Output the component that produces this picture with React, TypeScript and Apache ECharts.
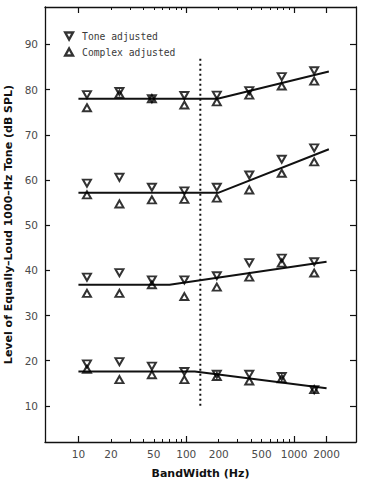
import React, { useEffect, useRef } from "react";
import * as echarts from "echarts";

// Bandwidths of the noise complexes (Hz), one octave apart
const bandwidths = [12, 24, 48, 96, 192, 384, 768, 1536];

// Levels of the equally-loud 1000-Hz tone (dB SPL), four reference levels
const toneAdjusted = [
  [78.9, 79.6, 78.0, 78.7, 78.8, 79.8, 82.9, 84.2],
  [59.3, 60.6, 58.4, 57.6, 58.4, 61.1, 64.6, 67.1],
  [38.5, 39.5, 37.9, 37.9, 38.8, 41.7, 42.7, 41.9],
  [19.3, 19.8, 18.8, 17.6, 17.0, 17.0, 16.5, 13.6],
];
const complexAdjusted = [
  [76.0, 79.0, 78.0, 76.6, 77.3, 78.8, 80.8, 81.9],
  [56.7, 54.7, 55.6, 55.7, 56.0, 57.8, 61.5, 64.0],
  [34.9, 34.9, 36.8, 34.2, 36.3, 38.5, 41.6, 39.4],
  [18.1, 15.8, 16.9, 15.8, 16.5, 15.5, 16.0, 13.6],
];

// Fitted two-segment lines: [bandwidth Hz, level dB]
const fitLines = [
  [[10, 78.0], [195, 78.0], [2100, 84.0]],
  [[10, 57.2], [200, 57.2], [2100, 66.8]],
  [[10, 36.8], [70, 36.8], [2000, 41.9]],
  [[10, 17.6], [120, 17.6], [2000, 13.9]],
];

// Critical bandwidth marker
const criticalBand = 135;
const criticalSpan = [10, 87];

const xMajorTicks = [10, 100, 1000, 2000];
const xMinorTicks = [20, 30, 40, 50, 60, 70, 80, 90, 200, 300, 400, 500, 600, 700, 800, 900];
const xTickLabels = [10, 20, 50, 100, 200, 500, 1000, 2000];
const yTicks = [10, 20, 30, 40, 50, 60, 70, 80, 90];

const lg = (v: number) => Math.log10(v);

const downTri = "path://M0,0 L10,0 L5,9 Z";
const upTri = "path://M5,0 L10,9 L0,9 Z";

export default function App() {
  const ref = useRef<HTMLDivElement>(null);

  useEffect(() => {
    if (!ref.current) return;
    const chart = echarts.init(ref.current, null, { renderer: "svg" });

    const xMin = 0.69;
    const xMax = 3.574;
    const ink = "#111111";
    const labelColor = "#4a4a4a";

    const xAxisBase = {
      type: "value" as const,
      min: xMin,
      max: xMax,
      splitLine: { show: false },
      axisLine: { show: true, onZero: false, lineStyle: { color: ink, width: 1.3 } },
    };

    const xAxes = [
      {
        ...xAxisBase,
        position: "bottom",
        name: "BandWidth (Hz)",
        nameLocation: "middle",
        nameGap: 26,
        nameTextStyle: { fontFamily: "DejaVu Sans", fontWeight: "bold", fontSize: 11, color: ink },
        axisTick: { show: true, inside: true, length: 6, customValues: xMajorTicks.map(lg), lineStyle: { color: ink, width: 1.2 } },
        axisLabel: {
          show: true,
          customValues: xTickLabels.map(lg),
          formatter: (v: number) => String(Math.round(Math.pow(10, v))),
          margin: 6,
          fontFamily: "DejaVu Sans",
          fontSize: 10.5,
          color: labelColor,
        },
      },
      {
        ...xAxisBase,
        position: "bottom",
        axisLine: { show: false, onZero: false },
        axisTick: { show: true, inside: true, length: 3, customValues: xMinorTicks.map(lg), lineStyle: { color: ink, width: 1 } },
        axisLabel: { show: false },
      },
      {
        ...xAxisBase,
        position: "top",
        axisTick: { show: true, inside: true, length: 6, customValues: xMajorTicks.map(lg), lineStyle: { color: ink, width: 1.2 } },
        axisLabel: { show: false },
      },
      {
        ...xAxisBase,
        position: "top",
        axisLine: { show: false, onZero: false },
        axisTick: { show: true, inside: true, length: 3, customValues: xMinorTicks.map(lg), lineStyle: { color: ink, width: 1 } },
        axisLabel: { show: false },
      },
    ];

    const yAxisBase = {
      type: "value" as const,
      min: 2,
      max: 98.3,
      splitLine: { show: false },
      axisLine: { show: true, onZero: false, lineStyle: { color: ink, width: 1.3 } },
    };

    const yAxes = [
      {
        ...yAxisBase,
        position: "left",
        name: "Level of Equally\u2013Loud 1000\u2013Hz Tone (dB SPL)",
        nameLocation: "middle",
        nameGap: 30,
        nameRotate: 90,
        nameTextStyle: { fontFamily: "DejaVu Sans", fontWeight: "bold", fontSize: 11, color: ink },
        axisTick: { show: true, inside: true, length: 5, customValues: yTicks, lineStyle: { color: ink, width: 1.2 } },
        axisLabel: { show: true, customValues: yTicks, margin: 7, fontFamily: "DejaVu Sans", fontSize: 10.5, color: labelColor },
      },
      {
        ...yAxisBase,
        position: "right",
        axisTick: { show: true, inside: true, length: 6, customValues: yTicks, lineStyle: { color: ink, width: 1.2 } },
        axisLabel: { show: false },
      },
    ];

    const markerStyle = { color: "rgba(255,255,255,0)", borderColor: "#000", borderWidth: 2 };

    const series: any[] = [];

    fitLines.forEach((pts, i) => {
      series.push({
        type: "line",
        name: "fit" + i,
        data: pts.map(([f, v]) => [lg(f), v]),
        showSymbol: false,
        symbol: "none",
        lineStyle: { color: ink, width: 2 },
        silent: true,
        z: 2,
      });
    });

    series.push({
      type: "line",
      name: "critical",
      data: criticalSpan.map((v) => [lg(criticalBand), v]),
      showSymbol: false,
      symbol: "none",
      lineStyle: { color: ink, width: 2, type: [2, 3] },
      silent: true,
      z: 1,
    });

    toneAdjusted.forEach((row) => {
      series.push({
        type: "scatter",
        name: "Tone adjusted",
        data: row.map((v, j) => [lg(bandwidths[j]), v]),
        symbol: downTri,
        symbolSize: [8, 7],
        itemStyle: markerStyle,
        silent: true,
        z: 3,
      });
    });

    complexAdjusted.forEach((row) => {
      series.push({
        type: "scatter",
        name: "Complex adjusted",
        data: row.map((v, j) => [lg(bandwidths[j]), v]),
        symbol: upTri,
        symbolSize: [8, 7],
        itemStyle: markerStyle,
        silent: true,
        z: 3,
      });
    });

    chart.setOption({
      animation: false,
      backgroundColor: "#ffffff",
      grid: { left: 45, right: 9, top: 7, bottom: 45, containLabel: false, outerBoundsMode: "none" },
      legend: {
        data: [
          { name: "Tone adjusted", icon: downTri },
          { name: "Complex adjusted", icon: upTri },
        ],
        orient: "vertical",
        left: 64,
        top: 31,
        padding: 0,
        itemWidth: 8,
        itemHeight: 7,
        itemGap: 6,
        selectedMode: false,
        itemStyle: { color: "rgba(255,255,255,0)", borderColor: "#000", borderWidth: 2.4 },
        textStyle: { fontFamily: "DejaVu Sans Mono", fontSize: 9.7, color: "#3a3a3a", padding: [0, 0, 0, 4] },
      },
      xAxis: xAxes,
      yAxis: yAxes,
      series,
    });

    return () => chart.dispose();
  }, []);

  return (
    <div
      ref={ref}
      style={{ position: "fixed", left: 0, top: 0, width: 365, height: 487, background: "#fff" }}
    />
  );
}
